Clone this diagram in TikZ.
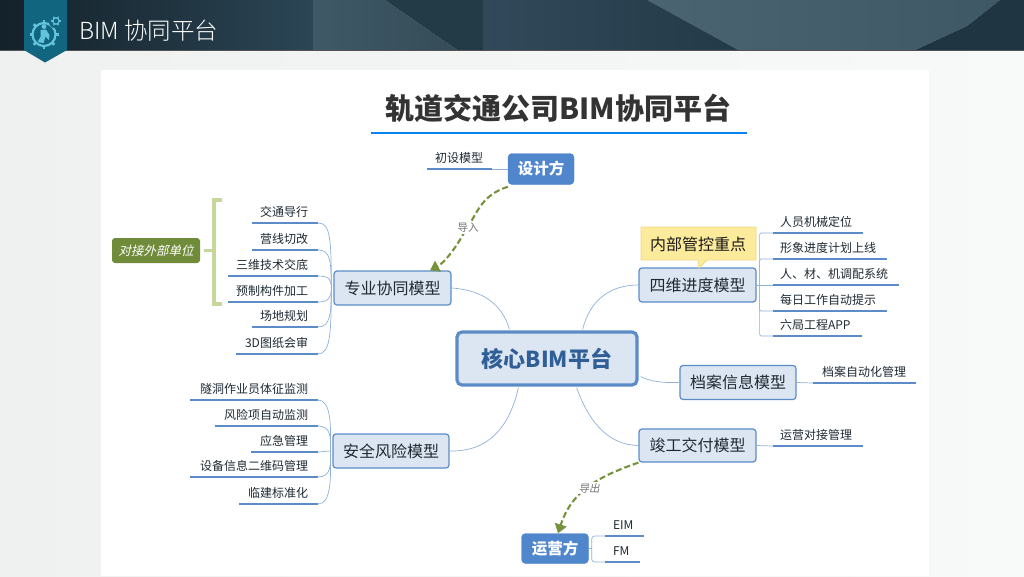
\documentclass[tikz,border=0pt]{standalone}
\usepackage{fontspec}
\usetikzlibrary{arrows.meta}
\setmainfont{Noto Sans CJK SC}
\newfontfamily\lightcjk{Noto Sans CJK SC Light}
\newfontfamily\slantcjk[FakeSlant=0.22]{Noto Sans CJK SC}
\newcommand{\lowered}[2]{\raisebox{-#1pt}{#2}}
\definecolor{hdrA}{HTML}{14222A}
\definecolor{hdrB}{HTML}{2C4656}
\definecolor{hdrC}{HTML}{3F5967}
\definecolor{hdrD}{HTML}{233A47}
\definecolor{hdrE}{HTML}{31495A}
\definecolor{hdrF}{HTML}{4A6472}
\definecolor{hdrG}{HTML}{3E5866}
\definecolor{hdrH}{HTML}{1F3542}
\definecolor{ribbon}{HTML}{12657F}
\definecolor{gearc}{HTML}{62C3DD}
\definecolor{pagebg}{HTML}{EFF0F0}
\definecolor{pagebr}{HTML}{F8F9F9}
\definecolor{bord}{HTML}{5B8CC8}
\definecolor{soft}{HTML}{DCE6F2}
\definecolor{linkc}{HTML}{8FB2DA}
\definecolor{deep}{HTML}{4F86CC}
\definecolor{olive}{HTML}{76923C}
\definecolor{brk}{HTML}{C6D79C}
\definecolor{ink}{HTML}{1F2A33}
\definecolor{corec}{HTML}{2F5F96}
\definecolor{callf}{HTML}{FDEB9C}
\definecolor{callb}{HTML}{EFD982}
\definecolor{titleline}{HTML}{0A84F0}
\tikzset{
  topic/.style={draw=bord,line width=1.2pt,fill=soft,rounded corners=3pt,inner sep=0pt,font=\fontsize{16}{18}\selectfont,text=ink},
  core/.style={draw=bord,line width=3.2pt,fill=soft,rounded corners=5pt,inner sep=0pt,font=\bfseries\fontsize{22}{24}\selectfont,text=corec},
  party/.style={fill=deep,draw=deep,rounded corners=4pt,inner sep=0pt,text=white,font=\bfseries\fontsize{15.5}{17}\selectfont},
  leafr/.style={anchor=south east,inner sep=0pt,outer sep=0pt,minimum height=22pt,text=ink,font=\fontsize{12}{14}\selectfont},
  leafl/.style={anchor=south west,inner sep=0pt,outer sep=0pt,minimum height=22pt,text=ink,font=\fontsize{12}{14}\selectfont},
  rule/.style={draw=bord,line width=2pt},
  link/.style={draw=linkc,line width=0.7pt},
  flow/.style={draw=olive,line width=2.1pt,dash pattern=on 6pt off 3pt,-{Triangle[length=9pt,width=12pt,fill=olive]}},
  flowlab/.style={inner sep=1pt,fill=white,text=black!55,font=\fontsize{10.5}{12}\selectfont},
}
\begin{document}
\begin{tikzpicture}[x=1pt,y=-1pt]
\useasboundingbox (0,0) rectangle (1024,576);
% page
\shade[left color=pagebg,right color=pagebr] (0,0) rectangle (1024,576);
\fill[white] (101,70) rectangle (929,576);
% header texture
\shade[left color=hdrA,right color=hdrB,middle color=hdrA!55!hdrB] (0,0) rectangle (313,50);
\shade[left color=hdrC,right color=hdrC!85!black] (313,0) -- (385,0) -- (457,50) -- (313,50) -- cycle;
\fill[hdrD] (385,0) -- (483,0) -- (483,50) -- (457,50) -- cycle;
\shade[left color=hdrE,right color=hdrD] (483,0) rectangle (738,50);
\shade[left color=hdrF,right color=hdrG] (647,0) -- (1000,0) -- (967,26) -- (915,50) -- (738,50) -- cycle;
\fill[hdrH] (915,50) -- (967,26) -- (1000,0) -- (1024,0) -- (1024,50) -- cycle;
\draw[black!35!gray,line width=.8pt] (0,50.5) -- (1024,50.5);
% ribbon and icon
\fill[ribbon] (24,0) -- (67,0) -- (67,50) -- (45,62.5) -- (24,50) -- cycle;
\draw[gearc,line width=2.2pt] (44,34.5) circle (11.5);
\foreach \a in {0,45,...,315}{\draw[gearc,line width=2.8pt] (44,34.5) ++(\a:11.5) -- ++(\a:3);}
\fill[ribbon] (55,22) circle (6);
\draw[gearc,line width=1.2pt] (56,21) circle (3.2);
\foreach \a in {0,60,...,300}{\draw[gearc,line width=1.2pt] (56,21) ++(\a:3.2) -- ++(\a:1.8);}
\fill[gearc] (44,26.5) circle (2.4);
\fill[gearc] (40.5,30) -- (46,29.5) -- (49.5,35) -- (49,40) -- (45.5,36.5) -- (43.5,43) -- (37.5,42) -- (40.5,37) -- cycle;
% header text
\node[inner sep=0pt,anchor=west,text=white,font=\lightcjk\fontsize{23.5}{26}\selectfont] (hdr) at (79,31) {BIM 协同平台};
% title
\node[inner sep=0pt,text=black!80,font=\bfseries\fontsize{29}{32}\selectfont] (title) at (558.5,108) {轨道交通公司BIM协同平台};
\coordinate (tl) at (371,133);
\coordinate (tr) at (747,133);
\draw[draw=titleline,line width=2.6pt] (tl) -- (tr);
% core
\node[core,minimum width=180pt,minimum height=53pt] (core) at (547,358.5) {\lowered{1.5}{核心BIM平台}};
% topics
\node[topic,minimum width=117pt,minimum height=34pt] (zy) at (392.5,288) {\lowered{1}{专业协同模型}};
\node[topic,minimum width=116pt,minimum height=34pt] (aq) at (391,451) {\lowered{1}{安全风险模型}};
\node[topic,minimum width=117pt,minimum height=34pt] (sw) at (697.5,285) {四维进度模型};
\node[topic,minimum width=116pt,minimum height=34pt] (da) at (738,382.5) {\lowered{1}{档案信息模型}};
\node[topic,minimum width=117pt,minimum height=33pt] (jg) at (697.5,445.5) {\lowered{1}{竣工交付模型}};
\node[party,minimum width=66pt,minimum height=31pt] (sj) at (541,169) {\lowered{1}{设计方}};
\node[party,minimum width=67pt,minimum height=30pt] (yy) at (555,548.5) {\lowered{1}{运营方}};
% centre links
\draw[link] (core.north west) ++(54,-1) coordinate (k1) (zy.east) .. controls (484,290) and (503,306) .. (k1);
\draw[link] (core.south west) ++(63,1) coordinate (k2) (aq.east) .. controls (490,452) and (510,425) .. (k2);
\draw[link] (core.north east) ++(-56,-1) coordinate (k3) (sw.west) .. controls (610,285) and (590,300) .. (k3);
\draw[link] (core.south east) ++(2,-10) coordinate (k4) (da.west) .. controls (660,383) and (650,381) .. (k4);
\draw[link] (core.south east) ++(-62,1) coordinate (k5) (jg.west) .. controls (610,445) and (590,425) .. (k5);
% left upper leaves
\foreach \n/\xa/\y/\t in {a1/252/223/交通导行,a2/252/250/营线切改,a3/228/276/三维技术交底,a4/228/302/预制构件加工,a5/252/327/场地规划,a6/236/354/3D图纸会审}{
  \coordinate (\n l) at (\xa,\y);
  \coordinate (\n r) at (318,\y);
  \node[leafr] (\n) at (308,\y) {\t};
  \draw[rule] (\n l) -- (\n r);
}
\coordinate (zh) at ([xshift=-2pt]zy.west);
\draw[link] (zh) .. controls (331,240) and (331,223) .. (a1r);
\draw[link] (zh) .. controls (331,262) and (331,250) .. (a2r);
\draw[link] (zh) .. controls (331,280) and (330,276) .. (a3r);
\draw[link] (zh) .. controls (331,296) and (330,302) .. (a4r);
\draw[link] (zh) .. controls (331,312) and (331,327) .. (a5r);
\draw[link] (zh) .. controls (331,330) and (331,354) .. (a6r);
% left lower leaves
\foreach \n/\xa/\y/\t in {b1/190/400/隧洞作业员体征监测,b2/215/426/风险项自动监测,b3/251/452/应急管理,b4/190/477/设备信息二维码管理,b5/239/504/临建标准化}{
  \coordinate (\n l) at (\xa,\y);
  \coordinate (\n r) at (318,\y);
  \node[leafr] (\n) at (308,\y) {\t};
  \draw[rule] (\n l) -- (\n r);
}
\coordinate (ah) at ([xshift=-2pt]aq.west);
\draw[link] (ah) .. controls (331,425) and (331,400) .. (b1r);
\draw[link] (ah) .. controls (331,438) and (331,426) .. (b2r);
\draw[link] (ah) -- (b3r);
\draw[link] (ah) .. controls (331,465) and (331,477) .. (b4r);
\draw[link] (ah) .. controls (331,480) and (331,504) .. (b5r);
% right leaves
\foreach \n/\xb/\y/\t in {c1/863/233/人员机械定位,c2/887/259/形象进度计划上线,c3/899/285/人、材、机调配系统,c4/887/311/每日工作自动提示,c5/862/336/六局工程APP}{
  \coordinate (\n l) at (773,\y);
  \coordinate (\n r) at (\xb,\y);
  \node[leafl] (\n) at (780,\y) {\t};
  \draw[rule] (\n l) -- (\n r);
}
\coordinate (sh) at ([xshift=3pt]sw.east);
\draw[link] (sw.east) -- (c3l);
\draw[link,rounded corners=1.5pt] (sh) |- (c1l);
\draw[link,rounded corners=1.5pt] (sh) |- (c2l);
\draw[link,rounded corners=1.5pt] (sh) |- (c4l);
\draw[link,rounded corners=1.5pt] (sh) |- (c5l);
% archive, completion
\coordinate (d1l) at (813,383); \coordinate (d1r) at (916,383);
\node[leafl] (d1) at (822,383) {档案自动化管理};
\draw[rule] (d1l) -- (d1r);
\draw[link] (da.east) -- (d1l);
\coordinate (e1l) at (773,446); \coordinate (e1r) at (863,446);
\node[leafl] (e1) at (780,446) {运营对接管理};
\draw[rule] (e1l) -- (e1r);
\draw[link] (jg.east) -- (e1l);
% designer leaf
\coordinate (f1l) at (427,169); \coordinate (f1r) at (492,169);
\node[leafl] (f1) at (435,169) {初设模型};
\draw[rule] (f1l) -- (f1r);
\draw[link] (f1r) -- (sj.west);
% operator leaves
\coordinate (g1l) at (605,536); \coordinate (g1r) at (644,536);
\coordinate (g2l) at (605,562); \coordinate (g2r) at (640,562);
\node[leafl] (g1) at (613,536) {EIM};
\node[leafl] (g2) at (613,562) {FM};
\draw[rule] (g1l) -- (g1r);
\draw[rule] (g2l) -- (g2r);
\coordinate (yh) at ([xshift=3pt]yy.east);
\draw[link] (yy.east) -- (yh);
\draw[link,rounded corners=3pt] (yh) |- (g1l);
\draw[link,rounded corners=3pt] (yh) |- (g2l);
% flows
\coordinate (sjout) at ([yshift=-2pt]sj.south west);
\coordinate (zyin) at (zy.north -| 430,271);
\coordinate (jgout) at (jg.south west);
\coordinate (yyin) at (yy.north -| 558,533);
\draw[flow] (sjout) .. controls (480,196) and (478,213) .. (465,231) .. controls (456,248) and (444,263) .. (zyin);
\node[flowlab] (imp) at (468,228) {导入};
\draw[flow] (jgout) .. controls (600,476) and (572,490) .. (yyin);
\node[flowlab,font=\slantcjk\fontsize{10.5}{12}\selectfont] (exp) at (589,488) {导出};
% callout
\filldraw[fill=callf,draw=callb,line width=.8pt] (641,227) -- (756,227) -- (756,260) -- (707,260) -- (699,268) -- (698,260) -- (641,260) -- cycle;
\node[inner sep=0pt,text=black!90,font=\fontsize{16}{18}\selectfont] (note) at (698,244) {内部管控重点};
% external bracket
\node[fill=olive!95!black,rounded corners=3pt,inner sep=0pt,minimum width=88pt,minimum height=25pt,text=white,font=\slantcjk\fontsize{12.5}{15}\selectfont] (ext) at (156,250.5) {对接外部单位};
\coordinate (bt) at (222,200);
\coordinate (bb) at (222,304);
\draw[brk,line width=3.2pt] (bt) -- (214,200) -- (214,304) -- (bb);
\draw[brk,line width=3.2pt] ([xshift=4pt]ext.east) -- (214,250.5);
\end{tikzpicture}
\end{document}
